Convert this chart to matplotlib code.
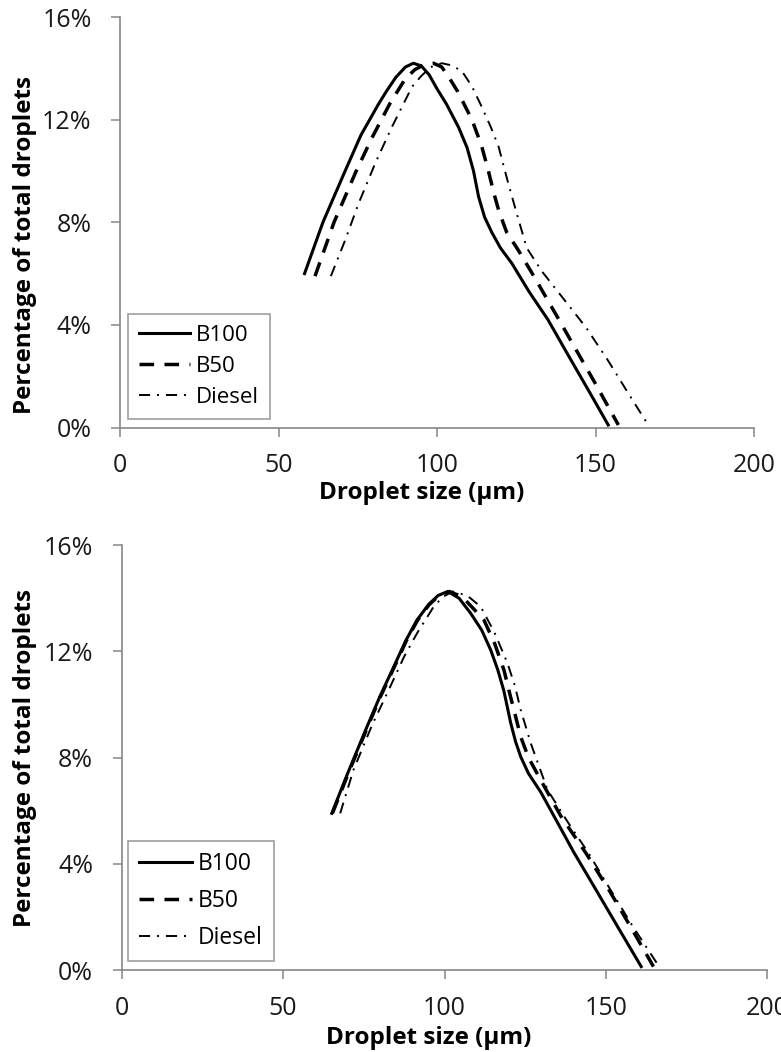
import matplotlib
matplotlib.use("Agg")
import matplotlib.pyplot as plt
from matplotlib.ticker import FuncFormatter

plt.rcParams['font.family'] = ['Open Sans', 'DejaVu Sans']
plt.rcParams['lines.scale_dashes'] = False

labels = ['B100', 'B50', 'Diesel']

# top panel, droplet size (um) and percentage of total droplets (%)
top_b100_x = [58.2, 64, 71, 76, 81.5, 84, 87, 90, 92.5, 95, 97.5, 100, 103, 106.8, 109.5, 111.5,
              113.1, 115, 117.3, 120, 123.6, 129, 135, 141, 148, 154]
top_b100_y = [6.0, 8.0, 10.0, 11.4, 12.6, 13.1, 13.65, 14.05, 14.2, 14.1, 13.75, 13.2, 12.6, 11.7,
              10.9, 10.0, 9.0, 8.2, 7.6, 7.0, 6.4, 5.3, 4.2, 2.9, 1.4, 0.1]
top_b50_x = [61.5, 67.5, 74.5, 79.5, 85, 90, 93, 96, 98.9, 101.5, 104, 106.5, 111, 114, 116.2, 118,
             119.6, 122, 125.7, 131, 138, 144, 150, 157.2]
top_b50_y = [5.9, 8.0, 10.0, 11.3, 12.6, 13.6, 13.95, 14.15, 14.2, 14.05, 13.6, 13.1, 12.0, 11.0,
             10.0, 9.1, 8.4, 7.6, 6.9, 5.8, 4.3, 3.0, 1.7, 0.1]
top_diesel_x = [66.5, 71, 75.3, 80.5, 85.7, 92.1, 95, 98, 101.5, 104.5, 107.8, 111, 114.1, 117,
                119.4, 122.5, 125.7, 128.3, 133, 140, 147, 154, 160, 166.6]
top_diesel_y = [5.9, 7.3, 8.75, 10.3, 11.7, 13.28, 13.7, 14.05, 14.2, 14.12, 13.9, 13.3, 12.5,
                11.7, 10.95, 9.5, 8.1, 7.0, 6.1, 5.0, 3.9, 2.6, 1.4, 0.1]

# bottom panel
bot_b100_x = [65.1, 70, 76, 80, 84.3, 88, 91.5, 95, 98, 101, 104.5, 108.1, 111.5, 114.3, 116.5,
              118.4, 120.5, 122, 123.6, 126, 129.8, 135, 140, 147, 154, 160.9]
bot_b100_y = [5.9, 7.4, 9.16, 10.3, 11.42, 12.4, 13.18, 13.75, 14.1, 14.25, 14.0, 13.43, 12.8, 12.05,
              11.3, 10.5, 9.3, 8.6, 8.03, 7.4, 6.7, 5.55, 4.44, 3.0, 1.55, 0.13]
bot_b50_x = [65.3, 70.2, 76.2, 80.2, 84.5, 88.2, 91.7, 95.2, 98.3, 101.5, 105.5, 109, 112.2, 115.5,
             118.4, 120, 121.5, 123.6, 126, 129.8, 136, 143.8, 151, 158, 164.7]
bot_b50_y = [5.9, 7.4, 9.16, 10.3, 11.42, 12.4, 13.18, 13.75, 14.1, 14.25, 14.05, 13.6, 13.18, 12.3,
             11.3, 10.5, 9.79, 8.78, 8.0, 7.15, 5.8, 4.4, 3.0, 1.55, 0.13]
bot_diesel_x = [67.7, 71.8, 77.5, 83.2, 87.5, 91.5, 96.6, 99.5, 102.5, 107, 111.2, 115.5, 119.5,
                121.8, 123.6, 126.7, 131.9, 138, 144.6, 151, 158, 166.6]
bot_diesel_y = [5.9, 7.53, 9.2, 10.67, 11.8, 12.68, 13.67, 14.05, 14.25, 14.1, 13.68, 12.7, 11.55,
                10.7, 9.79, 8.54, 6.78, 5.6, 4.4, 3.1, 1.7, 0.1]

x_ticks = [0, 50, 100, 150, 200]
y_ticks = [0, 4, 8, 12, 16]

styles = [dict(linestyle='-', linewidth=2.2),
          dict(linestyle=(0, (10.5, 7.5)), linewidth=2.5),
          dict(linestyle=(0, (8, 5, 1.4, 5)), linewidth=1.4)]
grey = '#868686'

fig = plt.figure(figsize=(7.81, 10.52), dpi=100)
ax_top = fig.add_axes([0.1537, 0.5936, 0.8118, 0.3902])
ax_bot = fig.add_axes([0.1556, 0.0779, 0.8271, 0.4040])

panels = [
    (ax_top, [(top_b100_x, top_b100_y), (top_b50_x, top_b50_y), (top_diesel_x, top_diesel_y)],
     (-0.150, 0.445), (0.475, -0.174), (0.0126, 0.021), 16, 0.45),
    (ax_bot, [(bot_b100_x, bot_b100_y), (bot_b50_x, bot_b50_y), (bot_diesel_x, bot_diesel_y)],
     (-0.149, 0.499), (0.476, -0.174), (0.010, 0.021), 16.5, 0.55),
]

for ax, series, ylab_pos, xlab_pos, leg_pos, leg_fs, leg_sp in panels:
    for (xs, ys), lab, st in zip(series, labels, styles):
        ax.plot(xs, ys, color='black', label=lab, solid_joinstyle='round', **st)
    ax.set_xlim(0, 200)
    ax.set_ylim(0, 16)
    ax.set_xticks(x_ticks)
    ax.set_yticks(y_ticks)
    ax.yaxis.set_major_formatter(FuncFormatter(lambda v, p: '%d%%' % v))
    for s in ['top', 'right']:
        ax.spines[s].set_visible(False)
    for s in ['left', 'bottom']:
        ax.spines[s].set_color(grey)
        ax.spines[s].set_linewidth(1.2)
    ax.tick_params(axis='both', direction='out', length=6.5, width=1.1, color=grey,
                   labelsize=18, labelcolor='#1a1a1a')
    ax.tick_params(axis='y', pad=14)
    ax.tick_params(axis='x', pad=12)
    ax.set_ylabel('Percentage of total droplets', fontsize=17.5, fontweight='bold')
    ax.yaxis.set_label_coords(*ylab_pos)
    ax.yaxis.label.set_va('center')
    ax.set_xlabel('Droplet size (µm)', fontsize=17.5, fontweight='bold')
    ax.xaxis.set_label_coords(*xlab_pos)
    ax.xaxis.label.set_va('baseline')
    leg = ax.legend(loc='lower left', bbox_to_anchor=leg_pos, fontsize=leg_fs, frameon=True,
                    fancybox=False, borderpad=0.5, handlelength=2.3, handletextpad=0.25,
                    labelspacing=leg_sp, borderaxespad=0)
    leg.get_frame().set_edgecolor(grey)
    leg.get_frame().set_linewidth(1.2)

fig.savefig('out.png', dpi=100)
